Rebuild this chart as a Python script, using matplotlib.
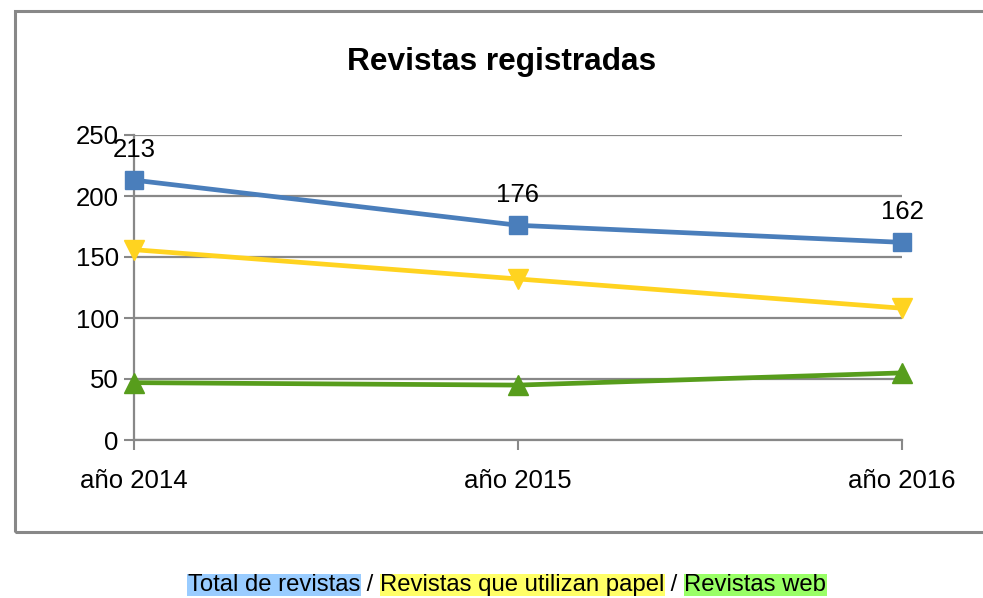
import matplotlib.pyplot as plt
from matplotlib.patches import Rectangle

plt.rcParams['font.family'] = ['Liberation Sans', 'DejaVu Sans']

years = ['año 2014', 'año 2015', 'año 2016']
total = [213, 176, 162]
papel = [156, 132, 108]
web = [47, 45, 55]
yticks = [0, 50, 100, 150, 200, 250]

blue = '#4A7EBB'
yellow = '#FFD320'
green = '#579D1C'
grey = '#888888'

fig = plt.figure(figsize=(9.83, 5.98), dpi=100)
W, H = 983, 598

# outer chart frame (runs off the right edge like the original)
fig.patches.append(Rectangle((15 / W, 1 - 532 / H), 1.0, (532 - 11) / H,
                             transform=fig.transFigure, fill=False,
                             edgecolor=grey, linewidth=2.2))

ax = fig.add_axes([134 / W, 1 - 440 / H, (902 - 134) / W, (440 - 135) / H])
x = list(range(len(years)))

ax.plot(x, web, color=green, lw=3.4, marker='^', ms=14, zorder=3, clip_on=False)
ax.plot(x, papel, color=yellow, lw=3.4, marker='v', ms=14, zorder=3, clip_on=False)
ax.plot(x, total, color=blue, lw=3.4, marker='s', ms=13.5, zorder=4, clip_on=False)

for xi, v in zip(x, total):
    ax.annotate(str(v), (xi, v), xytext=(0, 22), textcoords='offset points',
                ha='center', va='center', fontsize=18.5, color='black')

ax.set_xlim(0, 2)
ax.set_ylim(0, 250)
ax.set_yticks(yticks)
ax.set_xticks(x)
ax.set_xticklabels(years)
ax.tick_params(axis='both', labelsize=18.5, color=grey, width=1.5, length=7)
ax.tick_params(axis='x', pad=14)
ax.tick_params(axis='y', pad=4)
ax.grid(axis='y', color=grey, lw=1.6, zorder=0)
for s in ['top', 'right']:
    ax.spines[s].set_visible(False)
for s in ['left', 'bottom']:
    ax.spines[s].set_color(grey)
    ax.spines[s].set_linewidth(1.6)
ax.set_axisbelow(True)

fig.text(502 / W, 1 - 62 / H, 'Revistas registradas', ha='center', va='center',
         fontsize=22.8, fontweight='bold')

# legend line with highlighted pieces
pieces = [('Total de revistas', '#99CCFF'), (' / ', None),
          ('Revistas que utilizan papel', '#FFFF66'), (' / ', None),
          ('Revistas web', '#99FF66')]
fig.canvas.draw()
r = fig.canvas.get_renderer()
texts = []
for s, c in pieces:
    kw = {}
    if c:
        kw['bbox'] = dict(boxstyle='square,pad=0.02', fc=c, ec='none')
    t = fig.text(0, 1 - 585 / H, s, ha='left', va='center', fontsize=17.2, **kw)
    texts.append(t)
widths = [t.get_window_extent(r).width for t in texts]
xpos = 507 - sum(widths) / 2
for t, w in zip(texts, widths):
    t.set_x(xpos / W)
    xpos += w

fig.savefig('out.png', dpi=100)
